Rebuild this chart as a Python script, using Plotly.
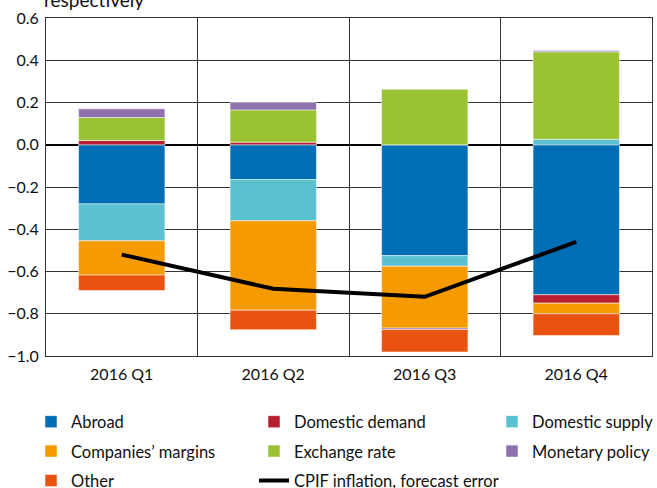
import plotly.graph_objects as go

categories = ["2016 Q1", "2016 Q2", "2016 Q3", "2016 Q4"]
abroad = [-0.28, -0.165, -0.525, -0.71]
domestic_demand = [0.02, 0.012, 0.0, -0.04]
domestic_supply = [-0.175, -0.195, -0.05, 0.026]
companies_margins = [-0.162, -0.423, -0.293, -0.05]
exchange_rate = [0.109, 0.153, 0.263, 0.414]
monetary_policy = [0.041, 0.035, -0.007, 0.006]
other = [-0.073, -0.093, -0.106, -0.103]
cpif_error = [-0.52, -0.682, -0.72, -0.46]

y_ticks = [0.6, 0.4, 0.2, 0.0, -0.2, -0.4, -0.6, -0.8, -1.0]

series = [
    ("Abroad", abroad, "#006EB6", "legend"),
    ("Domestic demand", domestic_demand, "#B81F2E", "legend2"),
    ("Domestic supply", domestic_supply, "#5BC1D0", "legend3"),
    ("Companies\u2019 margins", companies_margins, "#F59B00", "legend"),
    ("Exchange rate", exchange_rate, "#9BC232", "legend2"),
    ("Monetary policy", monetary_policy, "#8E72B0", "legend3"),
    ("Other", other, "#E9530F", "legend"),
]

FONT = "Lato"
W, H = 657, 488
ML, MR, MT, MB = 46, 5, 18, 131.5
PW, PH = W - ML - MR, H - MT - MB


def sx(px):
    return (px - ML) / PW


def sy(py):
    return (H - MB - py) / PH


fig = go.Figure()
for i, (name, vals, color, lg) in enumerate(series):
    fig.add_trace(go.Bar(
        x=categories, y=vals, name=name, legend=lg,
        marker=dict(color=color, line=dict(color="rgba(255,255,255,0.5)", width=1)),
        width=0.57, legendgroup=name,
    ))
fig.add_trace(go.Scatter(
    x=categories, y=cpif_error, mode="lines", name="CPIF inflation, forecast error",
    line=dict(color="black", width=4), legend="legend2", legendgroup="cpif",
))

leg_common = dict(
    orientation="v", xref="paper", yref="paper", xanchor="left", yanchor="top",
    font=dict(family=FONT, size=16.5, color="#111"), tracegroupgap=5,
    bgcolor="rgba(0,0,0,0)", traceorder="grouped",
)
fig.update_layout(
    width=W, height=H,
    margin=dict(l=ML, r=MR, t=MT, b=MB, autoexpand=False),
    barmode="relative",
    plot_bgcolor="white", paper_bgcolor="white",
    font=dict(family=FONT, size=16, color="#111"),
    legend=dict(x=sx(31), y=sy(405), **leg_common),
    legend2=dict(x=sx(254), y=sy(405), **leg_common),
    legend3=dict(x=sx(492), y=sy(405), **leg_common),
    xaxis=dict(
        tickson="boundaries", showgrid=True, gridcolor="#333", gridwidth=1,
        showline=True, linecolor="#333", mirror=True, ticks="",
        tickfont=dict(size=16), range=[-0.5, 3.5], tickangle=0,
        ticklabelstandoff=4,
    ),
    yaxis=dict(
        range=[-1.0, 0.6], tickvals=y_ticks, tickformat=".1f",
        showgrid=True, gridcolor="#333", gridwidth=1,
        showline=True, linecolor="#333", mirror=True,
        zeroline=True, zerolinecolor="black", zerolinewidth=2,
        tickfont=dict(size=16), ticks="", ticklabelstandoff=3,
        ticklabeloverflow="allow",
    ),
    annotations=[dict(
        text="respectively", xref="paper", yref="paper",
        x=sx(42), y=sy(13), xanchor="left", yanchor="bottom",
        showarrow=False, font=dict(family=FONT, size=19, color="#111"),
    )],
)
fig.write_html(
    "out.html",
    config={"displayModeBar": False},
    post_script="document.body.style.margin='0';document.body.style.overflow='hidden';",
)
